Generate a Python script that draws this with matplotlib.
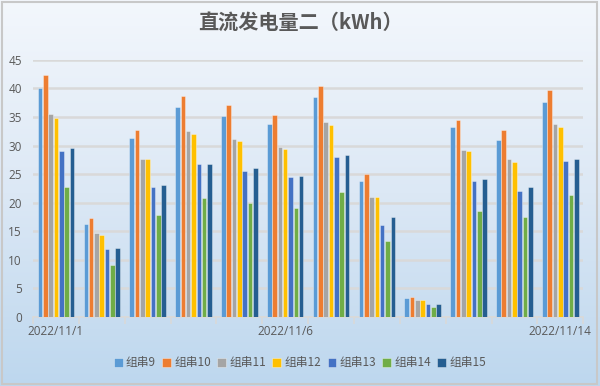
import numpy as np
import matplotlib
matplotlib.use("Agg")
import matplotlib.pyplot as plt
from matplotlib.patches import Rectangle
from matplotlib.colors import LinearSegmentedColormap

plt.rcParams['font.family'] = ['Noto Sans CJK SC', 'DejaVu Sans']

tick_labels = ['2022/11/1', '', '', '', '', '2022/11/6', '', '', '', '', '', '2022/11/14']
series_names = ['组串9', '组串10', '组串11', '组串12', '组串13', '组串14', '组串15']
s9 = [40.1, 16.2, 31.3, 36.7, 35.2, 33.7, 38.5, 23.8, 3.3, 33.2, 31.0, 37.7]
s10 = [42.3, 17.3, 32.8, 38.7, 37.1, 35.4, 40.4, 25.0, 3.4, 34.4, 32.7, 39.7]
s11 = [35.5, 14.6, 27.6, 32.6, 31.2, 29.7, 34.1, 21.0, 3.0, 29.3, 27.7, 33.8]
s12 = [34.9, 14.3, 27.6, 32.1, 30.8, 29.4, 33.6, 21.0, 2.9, 29.1, 27.1, 33.2]
s13 = [29.1, 11.9, 22.8, 26.7, 25.5, 24.5, 28.0, 16.1, 2.3, 23.8, 22.0, 27.3]
s14 = [22.8, 9.1, 17.8, 20.8, 20.0, 19.1, 21.9, 13.3, 1.7, 18.6, 17.5, 21.3]
s15 = [29.6, 12.0, 23.1, 26.8, 26.0, 24.7, 28.3, 17.5, 2.3, 24.1, 22.7, 27.7]
series = [s9, s10, s11, s12, s13, s14, s15]
colors = ['#5B9BD5', '#ED7D31', '#A5A5A5', '#FFC000', '#4472C4', '#70AD47', '#255E91']

fig = plt.figure(figsize=(6.0, 3.86), dpi=100)

# background gradient
bg = fig.add_axes([0, 0, 1, 1], zorder=0)
bg.set_axis_off()
grad = np.linspace(0, 1, 256).reshape(-1, 1)
cmap = LinearSegmentedColormap.from_list('bgc', ['#F3F7FC', '#DCE8F5', '#BDD7EE'])
bg.imshow(grad, aspect='auto', cmap=cmap, extent=[0, 1, 0, 1], origin='upper')
bg.add_patch(Rectangle((0.003, 0.005), 0.992, 0.99, fill=False, edgecolor='#C8C8C8', linewidth=1.5,
                       transform=bg.transAxes))
bg.set_xlim(0, 1)
bg.set_ylim(0, 1)

ax = fig.add_axes([0.055, 0.179, 0.917, 0.666], zorder=1)
ax.patch.set_alpha(0)

n = len(s9)
x = np.arange(n)
pitch = 0.116
width = 0.10
for i, (vals, c, name) in enumerate(zip(series, colors, series_names)):
    off = (i - 3) * pitch
    ax.bar(x + off, vals, width=width, color=c, label=name, zorder=3,
           edgecolor=(1, 1, 1, 0.5), linewidth=0.5)

ax.set_xlim(-0.5, n - 0.5)
ax.set_ylim(0, 45)
ax.set_yticks(np.arange(0, 46, 5))
ax.yaxis.grid(True, color='#D9D9D9', linewidth=1.8, zorder=0)
ax.set_axisbelow(True)
for s in ['top', 'right', 'left']:
    ax.spines[s].set_visible(False)
ax.spines['bottom'].set_color('#D9D9D9')
ax.spines['bottom'].set_linewidth(1.2)

ax.set_xticks(np.arange(-0.5, n, 1.0), minor=True)
ax.set_xticks(x)
ax.set_xticklabels(tick_labels)
ax.tick_params(axis='x', which='major', length=0, pad=6, labelsize=8.5, labelcolor='#595959')
ax.tick_params(axis='x', which='minor', length=5, color='#D9D9D9', width=1.2)
ax.tick_params(axis='y', length=0, labelsize=8.5, labelcolor='#595959', pad=8)
for lab in ax.get_xticklabels() + ax.get_yticklabels():
    lab.set_family(['Open Sans', 'DejaVu Sans'])

fig.text(0.5, 0.942, '直流发电量二（kWh）', ha='center', va='center', fontsize=14.5,
         color='#595959', fontweight='bold')

leg = fig.legend(loc='center', bbox_to_anchor=(0.5, 0.06), ncol=7, frameon=False,
                 fontsize=8.5, handlelength=0.75, handleheight=0.75, handletextpad=0.25,
                 columnspacing=0.55, labelcolor='#595959')

fig.savefig('out.png', dpi=100)
